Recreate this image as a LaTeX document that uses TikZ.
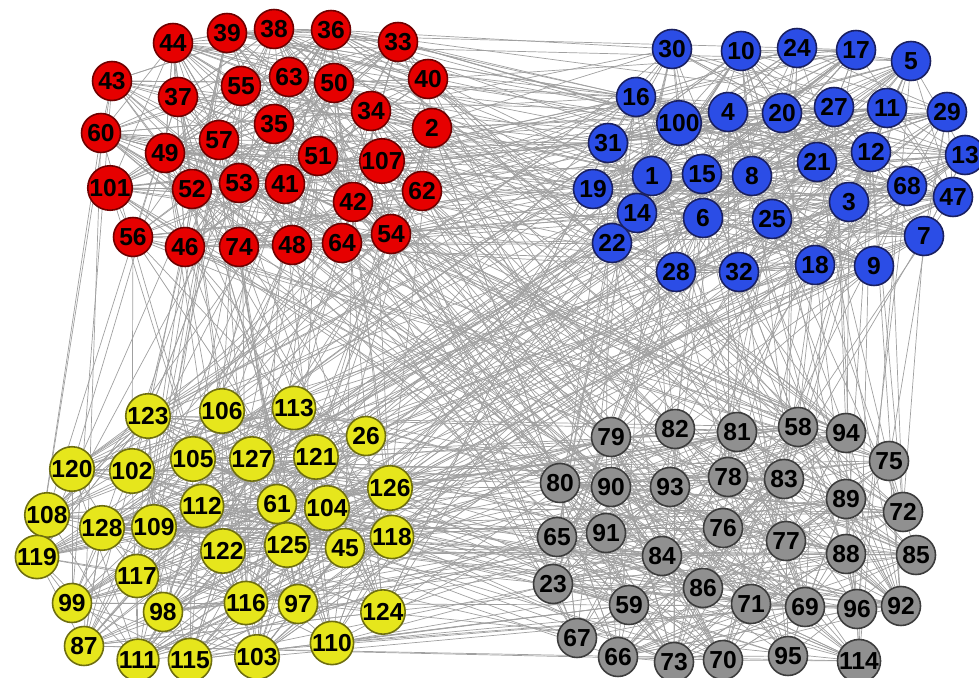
\documentclass[tikz,border=0pt]{standalone}
\usepackage{fontspec}
\setmainfont{Liberation Sans}
\usetikzlibrary{backgrounds}
\definecolor{rfill}{HTML}{E60000}\definecolor{rdraw}{HTML}{6E0000}
\definecolor{bfill}{HTML}{2B4DE6}\definecolor{bdraw}{HTML}{1A2060}
\definecolor{yfill}{HTML}{E6E61C}\definecolor{ydraw}{HTML}{6E6E10}
\definecolor{gfill}{HTML}{909090}\definecolor{gdraw}{HTML}{3C3C3C}
\definecolor{edgecol}{HTML}{A0A0A0}
\tikzset{
  vtx/.style={circle, minimum size=0.78cm, inner sep=0pt, line width=0.9pt, font=\bfseries\fontsize{14}{14}\selectfont, text=black},
  redv/.style={vtx, fill=rfill, draw=rdraw},
  bluev/.style={vtx, fill=bfill, draw=bdraw},
  yelv/.style={vtx, fill=yfill, draw=ydraw},
  grayv/.style={vtx, fill=gfill, draw=gdraw},
  link/.style={draw=edgecol, line width=0.4pt}
}
\begin{document}
\begin{tikzpicture}[x=0.02cm,y=-0.02cm]
\useasboundingbox (0,0) rectangle (979,678);
% red cluster
\foreach \n/\x/\y in {44/173/43,39/227/33,38/274/29,36/331/30,33/398/42,43/112/81,37/178/97,55/241/86,63/289/77,50/334/83,40/428/79,34/371/111,60/101/133,49/165/153,57/219/140,35/274/124,2/432/128,51/318/156,107/382/161,101/110/188,52/192/189,53/239/183,41/285/184,62/422/191,42/353/202,56/133/237,46/185/247,74/239/247,48/292/245,64/342/243,54/391/234}
  \node[redv] (n\n) at (\x,\y) {\n};
% blue cluster
\foreach \n/\x/\y in {30/672/49,10/741/51,24/797/48,17/856/50,5/911/61,16/636/97,100/679/123,4/728/112,20/782/113,27/834/107,11/887/108,29/947/112,31/608/143,12/871/152,13/965/155,21/817/162,1/652/176,15/702/174,8/752/176,19/593/189,68/907/186,47/953/197,14/637/213,6/703/218,25/772/219,3/849/202,22/612/243,7/924/236,28/676/272,32/739/272,18/815/265,9/874/266}
  \node[bluev] (n\n) at (\x,\y) {\n};
% yellow cluster
\foreach \n/\x/\y in {123/148/416,106/222/411,113/294/408,26/366/436,120/72/469,102/132/471,105/193/459,127/252/459,121/316/457,126/390/488,108/47/515,128/102/528,109/154/527,112/202/506,61/277/504,104/327/508,119/37/557,122/223/551,125/287/545,45/345/548,118/392/537,117/137/576,99/72/603,98/163/612,116/246/603,97/298/604,124/383/612,110/332/643,87/84/646,111/138/660,115/190/660,103/257/657}
  \node[yelv] (n\n) at (\x,\y) {\n};
% gray cluster
\foreach \n/\x/\y in {79/611/437,82/675/429,81/737/432,58/798/427,94/846/433,75/889/461,80/560/483,90/611/487,93/670/487,78/728/477,83/784/479,89/846/499,72/903/512,65/557/537,91/606/533,84/662/556,76/723/528,77/786/541,88/846/554,85/916/555,23/553/584,59/629/605,86/703/588,71/751/604,69/805/607,96/857/609,92/901/606,67/577/638,66/618/657,73/674/662,70/723/660,95/788/656,114/859/661}
  \node[grayv] (n\n) at (\x,\y) {\n};
\pgfmathdeclarerandomlist{R}{{44}{39}{38}{36}{33}{43}{37}{55}{63}{50}{40}{34}{60}{49}{57}{35}{2}{51}{107}{101}{52}{53}{41}{62}{42}{56}{46}{74}{48}{64}{54}}
\pgfmathdeclarerandomlist{B}{{30}{10}{24}{17}{5}{16}{100}{4}{20}{27}{11}{29}{31}{12}{13}{21}{1}{15}{8}{19}{68}{47}{14}{6}{25}{3}{22}{7}{28}{32}{18}{9}}
\pgfmathdeclarerandomlist{Y}{{123}{106}{113}{26}{120}{102}{105}{127}{121}{126}{108}{128}{109}{112}{61}{104}{119}{122}{125}{45}{118}{117}{99}{98}{116}{97}{124}{110}{87}{111}{115}{103}}
\pgfmathdeclarerandomlist{G}{{79}{82}{81}{58}{94}{75}{80}{90}{93}{78}{83}{89}{72}{65}{91}{84}{76}{77}{88}{85}{23}{59}{86}{71}{69}{96}{92}{67}{66}{73}{70}{95}{114}}
\pgfmathsetseed{4711}
\begin{scope}[on background layer]
\foreach \p/\q/\k in {R/R/240,B/B/240,Y/Y/240,G/G/240,R/B/100,R/Y/85,R/G/85,B/Y/85,B/G/85,Y/G/110}{
  \foreach \i in {1,...,\k}{
    \pgfmathrandomitem{\a}{\p}
    \pgfmathrandomitem{\b}{\q}
    \draw[link] (n\a.center) -- (n\b.center);
  }
}
\end{scope}
\end{tikzpicture}
\end{document}
